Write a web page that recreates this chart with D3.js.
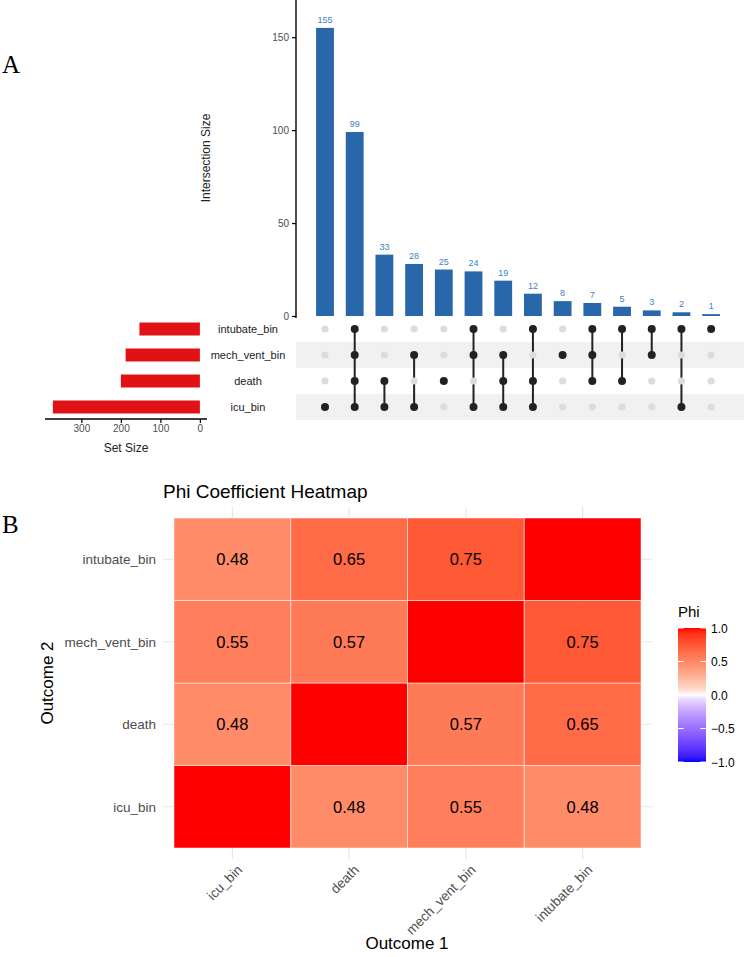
<!DOCTYPE html>
<html>
<head>
<meta charset="utf-8">
<script src="https://cdn.jsdelivr.net/npm/d3@7"></script>
<style>
  body { margin: 0; background: #fff; }
  text { font-family: "Liberation Sans", Arial, sans-serif; }
</style>
</head>
<body>
<svg id="fig" width="744" height="957"></svg>
<script>
// ---- data: upset plot ----
var sets = ["intubate_bin", "mech_vent_bin", "death", "icu_bin"];
var setSizes = [153, 188, 200, 372];
var interCounts = [155, 99, 33, 28, 25, 24, 19, 12, 8, 7, 5, 3, 2, 1];
var interMembers = [
  ["icu_bin"],
  ["intubate_bin", "mech_vent_bin", "death", "icu_bin"],
  ["death", "icu_bin"],
  ["mech_vent_bin", "icu_bin"],
  ["death"],
  ["intubate_bin", "mech_vent_bin", "icu_bin"],
  ["mech_vent_bin", "death", "icu_bin"],
  ["intubate_bin", "death", "icu_bin"],
  ["mech_vent_bin"],
  ["intubate_bin", "mech_vent_bin", "death"],
  ["intubate_bin", "death"],
  ["intubate_bin", "mech_vent_bin"],
  ["intubate_bin", "icu_bin"],
  ["intubate_bin"]
];
var interTicks = [0, 50, 100, 150];
var setTicks = [0, 100, 200, 300];

// ---- data: heatmap ----
var outcomes = ["icu_bin", "death", "mech_vent_bin", "intubate_bin"];
// phi[i][j]: Outcome 2 = outcomes[i], Outcome 1 = outcomes[j]
var phi = [
  [1.00, 0.48, 0.55, 0.48],
  [0.48, 1.00, 0.57, 0.65],
  [0.55, 0.57, 1.00, 0.75],
  [0.48, 0.65, 0.75, 1.00]
];
var legendTicks = [1.0, 0.5, 0.0, -0.5, -1.0];

var svg = d3.select("#fig");

// panel letters
svg.append("text").attr("x", 2).attr("y", 73)
  .style("font-family", "'Liberation Serif', 'DejaVu Serif', serif")
  .style("font-size", "25px").text("A");
svg.append("text").attr("x", 2).attr("y", 533)
  .style("font-family", "'Liberation Serif', 'DejaVu Serif', serif")
  .style("font-size", "25px").text("B");

// ================= A: upset =================
var x = d3.scaleBand()
  .domain(d3.range(interCounts.length))
  .range([310.15, 726])
  .paddingInner(0.4)
  .paddingOuter(0.2);

var y = d3.scaleLinear()
  .domain([0, 170])
  .range([316, 0]);

var row = d3.scaleBand()
  .domain(sets)
  .range([316, 420]);

// y axis of intersection bars
var gy = svg.append("g").attr("transform", "translate(296,0)")
  .call(d3.axisLeft(y).tickValues(interTicks).tickSize(4).tickPadding(3));
gy.select(".domain").attr("d", "M0,0V318").attr("stroke", "#000").attr("stroke-width", 1.4);
gy.selectAll(".tick line").attr("stroke", "#000").attr("stroke-width", 1.2);
gy.selectAll(".tick text").attr("fill", "#4d4d4d").style("font-size", "10px")
  .style("font-family", "'Liberation Sans', Arial, sans-serif");

svg.append("text")
  .attr("transform", "translate(210,158) rotate(-90)")
  .attr("text-anchor", "middle")
  .style("font-size", "12px")
  .attr("fill", "#222")
  .text("Intersection Size");

svg.selectAll(".ibar")
  .data(interCounts)
  .enter().append("rect")
  .attr("class", "ibar")
  .attr("x", function (d, i) { return x(i); })
  .attr("y", function (d) { return y(d); })
  .attr("width", x.bandwidth())
  .attr("height", function (d) { return y(0) - y(d); })
  .attr("fill", "#2767aa");

svg.selectAll(".ilab")
  .data(interCounts)
  .enter().append("text")
  .attr("class", "ilab")
  .attr("x", function (d, i) { return x(i) + x.bandwidth() / 2; })
  .attr("y", function (d) { return y(d) - 5; })
  .attr("text-anchor", "middle")
  .style("font-size", "9px")
  .attr("fill", "#3d7fc4")
  .text(function (d) { return d; });

// matrix stripes
svg.selectAll(".stripe")
  .data(sets.filter(function (s, i) { return i % 2 == 1; }))
  .enter().append("rect")
  .attr("x", 296)
  .attr("y", function (d) { return row(d); })
  .attr("width", 448)
  .attr("height", row.bandwidth())
  .attr("fill", "#f1f1f1");

// matrix lines and dots
var cols = svg.selectAll(".col")
  .data(interMembers)
  .enter().append("g")
  .attr("transform", function (d, i) { return "translate(" + (x(i) + x.bandwidth() / 2) + ",0)"; });

cols.each(function (m) {
  var g = d3.select(this);
  g.selectAll("circle")
    .data(sets)
    .enter().append("circle")
    .attr("cy", function (s) { return row(s) + row.bandwidth() / 2; })
    .attr("r", function (s) { return m.indexOf(s) >= 0 ? 4 : 3.6; })
    .attr("fill", function (s) { return m.indexOf(s) >= 0 ? "#222" : "#dcdcdc"; });
  if (m.length > 1) {
    var ys = m.map(function (s) { return row(s) + row.bandwidth() / 2; });
    g.insert("line", "circle")
      .attr("y1", d3.min(ys)).attr("y2", d3.max(ys))
      .attr("stroke", "#222").attr("stroke-width", 2);
  }
});

// set size bars
var sx = d3.scaleLinear().domain([392, -18]).range([45, 207]);

svg.selectAll(".sbar")
  .data(setSizes)
  .enter().append("rect")
  .attr("x", function (d) { return sx(d); })
  .attr("y", function (d, i) { return row(sets[i]) + row.bandwidth() / 2 - 6.5; })
  .attr("width", function (d) { return sx(0) - sx(d); })
  .attr("height", 13)
  .attr("fill", "#e01216");

svg.selectAll(".slab")
  .data(sets)
  .enter().append("text")
  .attr("x", 248)
  .attr("y", function (d) { return row(d) + row.bandwidth() / 2 + 4; })
  .attr("text-anchor", "middle")
  .style("font-size", "11px")
  .attr("fill", "#222")
  .text(function (d) { return d; });

var gs = svg.append("g").attr("transform", "translate(0,419)")
  .call(d3.axisBottom(sx).tickValues(setTicks).tickSize(4).tickPadding(2));
gs.select(".domain").attr("d", "M45,0H207").attr("stroke", "#000").attr("stroke-width", 1.4);
gs.selectAll(".tick line").attr("stroke", "#000").attr("stroke-width", 1.2);
gs.selectAll(".tick text").attr("fill", "#4d4d4d").style("font-size", "10px")
  .style("font-family", "'Liberation Sans', Arial, sans-serif");

svg.append("text")
  .attr("x", 126).attr("y", 452)
  .attr("text-anchor", "middle")
  .style("font-size", "12px")
  .attr("fill", "#222")
  .text("Set Size");

// ================= B: heatmap =================
var hx = d3.scaleBand().domain(outcomes).range([174, 641]);
var hy = d3.scaleBand().domain(outcomes.slice().reverse()).range([518, 848]);
var color = d3.scaleDivergingPow()
  .exponent(0.7)
  .domain([-1, 0, 1])
  .interpolator(d3.piecewise(d3.interpolateLab, ["blue", "white", "red"]));

svg.append("text")
  .attr("x", 163).attr("y", 498)
  .style("font-size", "19px")
  .attr("fill", "#000")
  .text("Phi Coefficient Heatmap");

// gridlines
svg.selectAll(".vgrid")
  .data(outcomes)
  .enter().append("line")
  .attr("x1", function (d) { return hx(d) + hx.bandwidth() / 2; })
  .attr("x2", function (d) { return hx(d) + hx.bandwidth() / 2; })
  .attr("y1", 507).attr("y2", 859)
  .attr("stroke", "#e6e6e6").attr("stroke-width", 1.2);
svg.selectAll(".hgrid")
  .data(outcomes)
  .enter().append("line")
  .attr("y1", function (d) { return hy(d) + hy.bandwidth() / 2; })
  .attr("y2", function (d) { return hy(d) + hy.bandwidth() / 2; })
  .attr("x1", 163).attr("x2", 652)
  .attr("stroke", "#e6e6e6").attr("stroke-width", 1.2);

var cells = [];
outcomes.forEach(function (o2, i) {
  outcomes.forEach(function (o1, j) {
    cells.push({ o1: o1, o2: o2, v: phi[i][j] });
  });
});

svg.selectAll(".tile")
  .data(cells)
  .enter().append("rect")
  .attr("x", function (d) { return hx(d.o1); })
  .attr("y", function (d) { return hy(d.o2); })
  .attr("width", hx.bandwidth())
  .attr("height", hy.bandwidth())
  .attr("fill", function (d) { return color(d.v); })
  .attr("stroke", "#fff").attr("stroke-opacity", 0.5).attr("stroke-width", 1);

svg.selectAll(".tlab")
  .data(cells.filter(function (d) { return d.o1 != d.o2; }))
  .enter().append("text")
  .attr("x", function (d) { return hx(d.o1) + hx.bandwidth() / 2; })
  .attr("y", function (d) { return hy(d.o2) + hy.bandwidth() / 2 + 6; })
  .attr("text-anchor", "middle")
  .style("font-size", "16.5px")
  .attr("fill", "#000")
  .text(function (d) { return d3.format(".2f")(d.v); });

// axis labels
svg.selectAll(".ylab")
  .data(outcomes)
  .enter().append("text")
  .attr("x", 156)
  .attr("y", function (d) { return hy(d) + hy.bandwidth() / 2 + 5; })
  .attr("text-anchor", "end")
  .style("font-size", "13.5px")
  .attr("fill", "#4d4d4d")
  .text(function (d) { return d; });

svg.selectAll(".xlab")
  .data(outcomes)
  .enter().append("text")
  .attr("transform", function (d) {
    return "translate(" + (hx(d) + hx.bandwidth() / 2 + 4) + ",864) rotate(-45)";
  })
  .attr("text-anchor", "end")
  .attr("dy", "0.7em")
  .style("font-size", "13.5px")
  .attr("fill", "#4d4d4d")
  .text(function (d) { return d; });

svg.append("text")
  .attr("x", 407).attr("y", 949)
  .attr("text-anchor", "middle")
  .style("font-size", "17px")
  .attr("fill", "#000")
  .text("Outcome 1");

svg.append("text")
  .attr("transform", "translate(53,683) rotate(-90)")
  .attr("text-anchor", "middle")
  .style("font-size", "17px")
  .attr("fill", "#000")
  .text("Outcome 2");

// legend
var ly = d3.scaleLinear().domain([-1, 1]).range([762, 628]);
var grad = svg.append("defs").append("linearGradient")
  .attr("id", "phiGrad")
  .attr("x1", 0).attr("y1", 1).attr("x2", 0).attr("y2", 0);
d3.range(0, 1.001, 0.025).forEach(function (t) {
  grad.append("stop")
    .attr("offset", t)
    .attr("stop-color", color(-1 + 2 * t));
});

svg.append("text")
  .attr("x", 678).attr("y", 617)
  .style("font-size", "15px")
  .attr("fill", "#000")
  .text("Phi");

svg.append("rect")
  .attr("x", 678).attr("y", ly(1))
  .attr("width", 28).attr("height", ly(-1) - ly(1))
  .attr("fill", "url(#phiGrad)");

var lg = svg.append("g");
legendTicks.forEach(function (t) {
  lg.append("line").attr("x1", 678).attr("x2", 683.5)
    .attr("y1", ly(t)).attr("y2", ly(t)).attr("stroke", "#fff").attr("stroke-width", 1);
  lg.append("line").attr("x1", 700.5).attr("x2", 706)
    .attr("y1", ly(t)).attr("y2", ly(t)).attr("stroke", "#fff").attr("stroke-width", 1);
  lg.append("text")
    .attr("x", 711).attr("y", ly(t) + 4.5)
    .style("font-size", "12px")
    .attr("fill", "#000")
    .text(d3.format(".1f")(t).replace("-", "\u2212"));
});
</script>
</body>
</html>
